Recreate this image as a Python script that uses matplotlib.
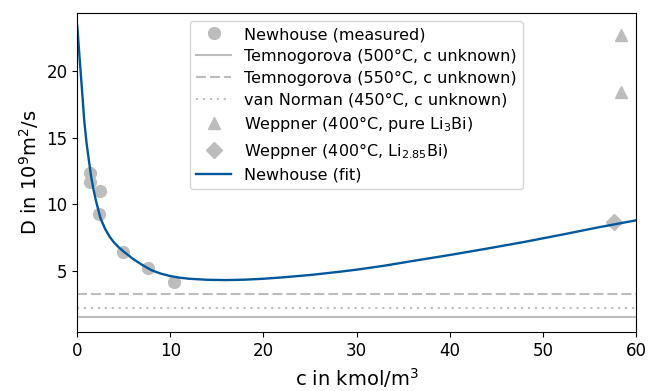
import matplotlib
matplotlib.use("Agg")
import matplotlib.pyplot as plt

# Newhouse measurements
c_meas = [1.36, 1.36, 2.44, 2.36, 4.94, 7.63, 10.39]
D_meas = [12.33, 11.70, 11.02, 9.25, 6.40, 5.20, 4.20]

# literature values without known concentration
D_temno_500 = 1.55
D_temno_550 = 3.25
D_vannorman_450 = 2.20

# Weppner
c_wep_pure = [58.4, 58.4]
D_wep_pure = [22.7, 18.4]
c_wep_285 = [57.6]
D_wep_285 = [8.7]

# fitted curve
c_fit = [0, 0.25, 0.5, 0.75, 1.0, 1.25, 1.5, 1.75, 2.0, 2.5, 3.0, 3.5, 4.0, 4.5,
         5.0, 6.0, 7.0, 8.0, 9.0, 10, 11, 12, 14, 16, 18, 20, 22, 25, 28, 30,
         33, 36, 40, 44, 48, 52, 56, 60]
D_fit = [23.4, 21.0, 18.7, 16.3, 14.6, 13.3, 12.05, 11.1, 10.3, 8.95, 8.15, 7.55,
         7.1, 6.75, 6.45, 5.9, 5.45, 5.05, 4.8, 4.62, 4.5, 4.42, 4.34, 4.32, 4.35,
         4.42, 4.52, 4.7, 4.93, 5.1, 5.4, 5.75, 6.2, 6.68, 7.18, 7.72, 8.28, 8.8]

grey = '#bdbdbd'
blue = '#00579c'

fig = plt.figure(figsize=(6.49, 3.91), dpi=100)
ax = fig.add_axes([0.119, 0.150, 0.861, 0.8175])

ax.plot(c_meas, D_meas, 'o', color=grey, ms=8.5, label='Newhouse (measured)')
ax.axhline(D_temno_500, color=grey, lw=1.5, ls='-', label='Temnogorova (500°C, c unknown)')
ax.axhline(D_temno_550, color=grey, lw=1.5, ls=(0, (4.8, 1.9)),
           label='Temnogorova (550°C, c unknown)')
ax.axhline(D_vannorman_450, color=grey, lw=1.5, ls=(0, (1, 2.33)),
           label='van Norman (450°C, c unknown)')
ax.plot(c_wep_pure, D_wep_pure, '^', color=grey, ms=8.5, label='Weppner (400°C, pure Li$_3$Bi)')
ax.plot(c_wep_285, D_wep_285, 'D', color=grey, ms=8, label='Weppner (400°C, Li$_{2.85}$Bi)')
ax.plot(c_fit, D_fit, color=blue, lw=1.7, label='Newhouse (fit)')

ax.set_xlim(0, 60)
ax.set_ylim(0.4, 24.37)
ax.set_xticks([0, 10, 20, 30, 40, 50, 60])
ax.set_yticks([5, 10, 15, 20])
ax.tick_params(labelsize=12)
ax.set_xlabel('c in kmol/m$^3$', fontsize=14)
ax.set_ylabel('D in 10$^9$m$^2$/s', fontsize=14)
ax.legend(loc='upper center', fontsize=11.5, labelspacing=0.42, handlelength=2.2)

fig.savefig('out.png', dpi=100)
